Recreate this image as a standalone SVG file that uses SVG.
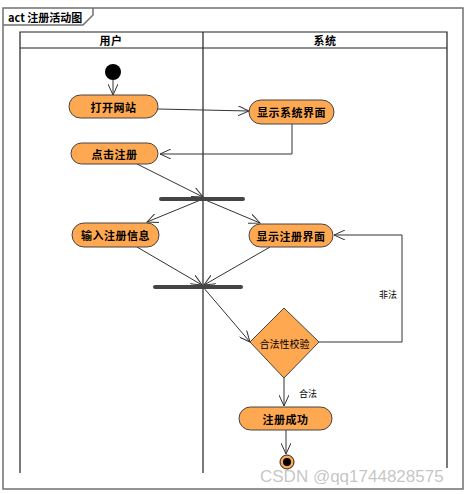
<svg xmlns="http://www.w3.org/2000/svg" width="469" height="494" viewBox="0 0 469 494">
<defs>
<style>
.frame{fill:none;stroke:#707070;stroke-width:1.5}
.lane{fill:none;stroke:#222;stroke-width:1.2}
.act{fill:#FFA852;stroke:#444;stroke-width:1}
.lbl{font-family:"Noto Sans CJK SC","Liberation Sans",sans-serif;font-size:11px;font-weight:bold;fill:#000;text-anchor:middle;dominant-baseline:central;letter-spacing:0.5px}
.small{font-family:"Noto Sans CJK SC","Liberation Sans",sans-serif;font-size:9px;fill:#000;text-anchor:middle;dominant-baseline:central}
.edge{fill:none;stroke:#333;stroke-width:1;marker-end:url(#arr)}
.bar{fill:#444}
</style>
<marker id="arr" viewBox="0 0 12 10" refX="11" refY="5" markerWidth="12" markerHeight="10" markerUnits="userSpaceOnUse" orient="auto">
<path d="M0,0 L11,5 L0,10" fill="none" stroke="#333" stroke-width="1"/>
</marker>
</defs>
<rect width="469" height="494" fill="#fff"/>
<g id="frame">
<rect class="frame" x="3" y="8" width="460" height="481"/>
<path class="frame" d="M3,25 H83 L93,15 V8"/>
<text class="lbl" x="8" y="17" style="text-anchor:start;letter-spacing:0">act 注册活动图</text>
</g>
<g id="lanes">
<path class="lane" d="M20,473 V32 H447 V468 M20,48 H447 M203,32 V473"/>
<text class="lbl" x="111" y="40">用户</text>
<text class="lbl" x="325" y="40">系统</text>
</g>
<g id="connectors">
<path class="edge" d="M113,80 V95"/>
<path class="edge" d="M158,109 L249,111"/>
<path class="edge" d="M292,124 V154 H160"/>
<path class="edge" d="M137,164 L203,197"/>
<path class="edge" d="M203,199 L147,222"/>
<path class="edge" d="M203,199 L260,223"/>
<path class="edge" d="M137,247 L202,285"/>
<path class="edge" d="M270,247 L204,285"/>
<path class="edge" d="M203,287 L250,342"/>
<path class="edge" d="M319,342 H402 V235 H334"/>
<path class="edge" d="M284,378 V406"/>
<path class="edge" d="M286,430 V454"/>
<text class="small" x="388" y="294">非法</text>
<text class="small" x="308" y="393">合法</text>
</g>
<g id="start"><circle cx="113" cy="72" r="8" fill="#000"/></g>
<g id="n1"><rect class="act" x="69" y="95" width="89" height="23" rx="11.5"/><text class="lbl" x="113.5" y="106.5">打开网站</text></g>
<g id="n2"><rect class="act" x="249" y="100" width="85" height="24" rx="12"/><text class="lbl" x="291.5" y="112">显示系统界面</text></g>
<g id="n3"><rect class="act" x="71" y="143" width="87" height="21" rx="10.5"/><text class="lbl" x="114.5" y="153.5">点击注册</text></g>
<g id="fork1"><rect class="bar" x="159" y="197" width="86" height="4" rx="2"/></g>
<g id="n4"><rect class="act" x="72" y="223" width="87" height="24" rx="12"/><text class="lbl" x="115.5" y="235">输入注册信息</text></g>
<g id="n5"><rect class="act" x="249" y="224" width="84" height="23" rx="11.5"/><text class="lbl" x="291" y="235.5">显示注册界面</text></g>
<g id="join1"><rect class="bar" x="153" y="285" width="90" height="4" rx="2"/></g>
<g id="decision"><path class="act" d="M284,308 L319,342 L284,378 L250,342 Z"/><text class="small" x="284.5" y="343" style="font-size:10px">合法性校验</text></g>
<g id="n6"><rect class="act" x="239" y="407" width="93" height="23" rx="11.5"/><text class="lbl" x="285.5" y="418.5">注册成功</text></g>
<g id="end"><circle cx="287" cy="462" r="7" fill="#FFA852" stroke="#222" stroke-width="1"/><circle cx="287" cy="462" r="4" fill="#000"/></g>
<text x="260" y="482" font-family="Liberation Sans, sans-serif" font-size="17" fill="#bbb" fill-opacity="0.85">CSDN @qq1744828575</text>
</svg>
